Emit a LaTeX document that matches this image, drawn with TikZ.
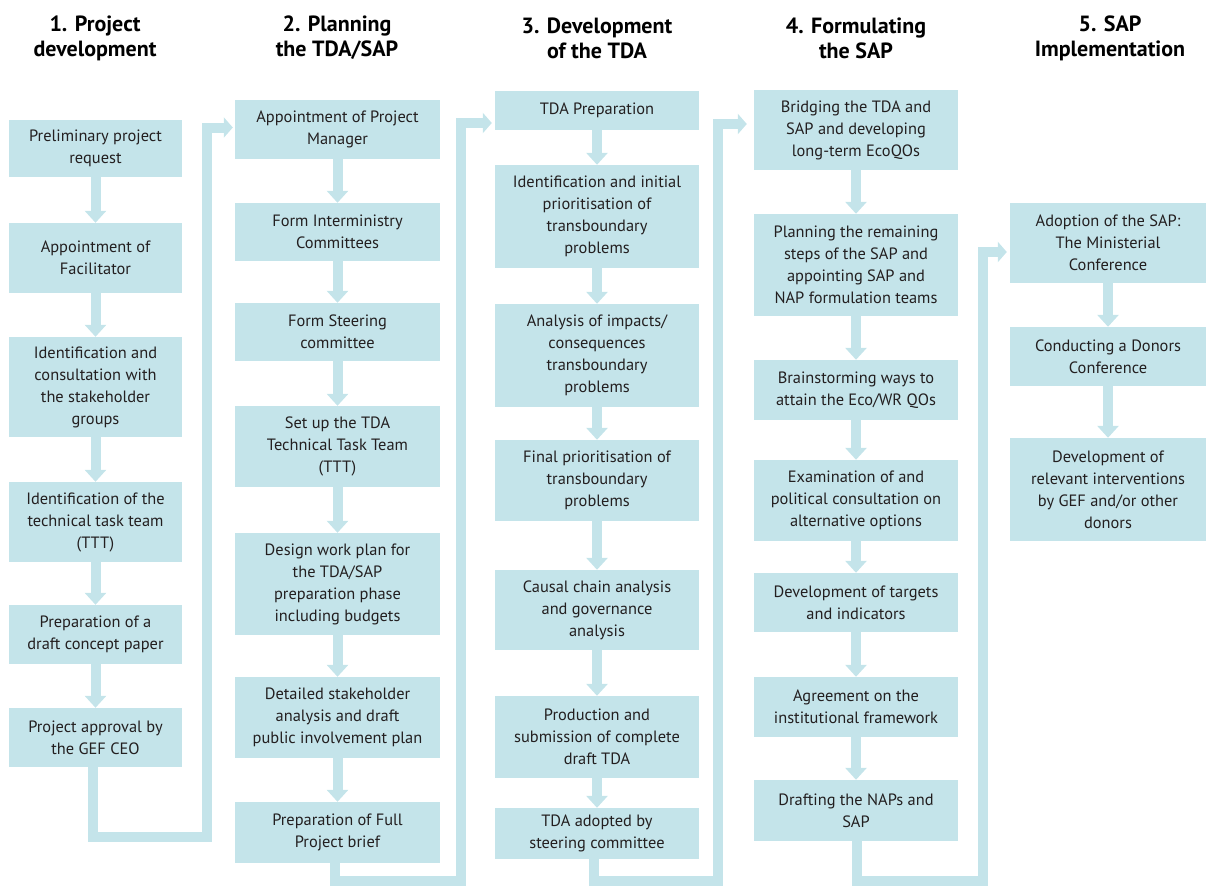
\documentclass[tikz,border=0pt]{standalone}
\usepackage{fontspec}
\setmainfont{PT Sans}
\usetikzlibrary{arrows.meta}
\definecolor{boxc}{HTML}{C4E4EA}
\definecolor{txtc}{HTML}{231F20}
\tikzset{
  x=1pt, y=-1pt,
  box/.style 2 args={fill=boxc, draw=none, inner sep=0pt, align=center, text=txtc,
    font=\fontsize{16.4}{22}\selectfont, minimum width=#1pt, minimum height=#2pt},
  head/.style={align=center, font=\fontsize{22}{25}\selectfont\bfseries, text=black},
  flow/.style={draw=boxc, line width=10pt, -{Triangle[width=21pt,length=12pt]}},
  conn/.style={draw=boxc, line width=10pt, line join=miter, -{Triangle[width=20pt,length=9pt]}}
}
\begin{document}
\begin{tikzpicture}
\useasboundingbox (0,0) rectangle (1207,886);

% headings
\node[head] (h1) at (95,38) {1. Project\\development};
\node[head] (h2) at (337,38) {2. Planning\\the TDA/SAP};
\node[head] (h3) at (597,38) {3. Development\\of the TDA};
\node[head] (h4) at (856,38) {4. Formulating\\the SAP};
\node[head] (h5) at (1110,38) {5. SAP\\Implementation};

% column 1
\node[box={173}{57}]  (b1) at (95.5,148.5) {Preliminary project\\request};
\node[box={173}{70}]  (b2) at (95.5,258)   {Appointment of\\Facilitator};
\node[box={173}{100}] (b3) at (95.5,387)   {Identification and\\consultation with\\the stakeholder\\groups};
\node[box={173}{80}]  (b4) at (95.5,522)   {Identification of the\\technical task team\\(TTT)};
\node[box={173}{59}]  (b5) at (95.5,634.5) {Preparation of a\\draft concept paper};
\node[box={173}{59}]  (b6) at (95.5,737.5) {Project approval by\\the GEF CEO};

% column 2
\node[box={205}{59}]  (c1) at (337.5,129.5) {Appointment of Project\\Manager};
\node[box={205}{58}]  (c2) at (337.5,232)   {Form Interministry\\Committees};
\node[box={205}{58}]  (c3) at (337.5,332)   {Form Steering\\committee};
\node[box={205}{81}]  (c4) at (337.5,446.5) {Set up the TDA\\Technical Task Team\\(TTT)};
\node[box={205}{102}] (c5) at (337.5,584)   {Design work plan for\\the TDA/SAP\\preparation phase\\including budgets};
\node[box={205}{81}]  (c6) at (337.5,717.5) {Detailed stakeholder\\analysis and draft\\public involvement plan};
\node[box={205}{61}]  (c7) at (337.5,832.5) {Preparation of Full\\Project brief};

% column 3
\node[box={204}{39}]  (d1) at (597,110.5) {TDA Preparation};
\node[box={204}{103}] (d2) at (597,216.5) {Identification and initial\\prioritisation of\\transboundary\\problems};
\node[box={204}{103}] (d3) at (597,355.5) {Analysis of impacts/\\consequences\\transboundary\\problems};
\node[box={204}{81}]  (d4) at (597,480.5) {Final prioritisation of\\transboundary\\problems};
\node[box={204}{80}]  (d5) at (597,610)   {Causal chain analysis\\and governance\\analysis};
\node[box={204}{82}]  (d6) at (597,737)   {Production and\\submission of complete\\draft TDA};
\node[box={204}{51}]  (d7) at (597,833.5) {TDA adopted by\\steering committee};

% column 4
\node[box={204}{80}]  (e1) at (856,130)   {Bridging the TDA and\\SAP and developing\\long-term EcoQOs};
\node[box={204}{102}] (e2) at (856,265)   {Planning the remaining\\steps of the SAP and\\appointing SAP and\\NAP formulation teams};
\node[box={204}{60}]  (e3) at (856,390)   {Brainstorming ways to\\attain the Eco/WR QOs};
\node[box={204}{81}]  (e4) at (856,500.5) {Examination of and\\political consultation on\\alternative options};
\node[box={204}{59}]  (e5) at (856,602.5) {Development of targets\\and indicators};
\node[box={204}{60}]  (e6) at (856,707)   {Agreement on the\\institutional framework};
\node[box={204}{61}]  (e7) at (856,810.5) {Drafting the NAPs and\\SAP};

% column 5
\node[box={196}{80}]  (f1) at (1108,243)   {Adoption of the SAP:\\The Ministerial\\Conference};
\node[box={196}{59}]  (f2) at (1108,356.5) {Conducting a Donors\\Conference};
\node[box={196}{103}] (f3) at (1108,489.5) {Development of\\relevant interventions\\by GEF and/or other\\donors};

% arrows within columns
\foreach \a/\b in {b1/b2,b2/b3,b3/b4,b4/b5,b5/b6,
                   c1/c2,c2/c3,c3/c4,c4/c5,c5/c6,c6/c7,
                   d1/d2,d2/d3,d3/d4,d4/d5,d5/d6,d6/d7,
                   e1/e2,e2/e3,e3/e4,e4/e5,e5/e6,e6/e7,
                   f1/f2,f2/f3}
  \draw[flow] (\a.south) -- (\b.north);

% connectors between columns
\coordinate (k1) at (207,837);
\coordinate (k2) at (461,881);
\coordinate (k3) at (718,881);
\coordinate (k4) at (983,881);
\draw[conn] ([xshift=-3pt]b6.south) |- (k1) |- ([xshift=-2pt,yshift=2pt]c1.west);
\draw[conn] ([xshift=-2.5pt]c7.south) |- (k2) |- ([xshift=-3pt,yshift=-12.5pt]d1.west);
\draw[conn] ([xshift=-3pt]d7.south) |- (k3) |- ([xshift=-7pt,yshift=6pt]e1.west);
\draw[conn] ([xshift=1pt]e7.south) |- (k4) |- ([xshift=-3pt,yshift=-9pt]f1.west);
\end{tikzpicture}
\end{document}
